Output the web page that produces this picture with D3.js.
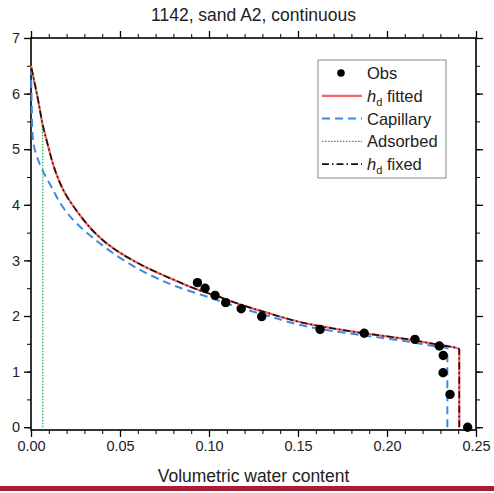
<!DOCTYPE html>
<html>
<head>
<meta charset="utf-8">
<script src="https://cdn.jsdelivr.net/npm/d3@7"></script>
<style>
  body { margin: 0; background: #fff; }
  svg text { font-family: "Liberation Sans", Arial, sans-serif; }
</style>
</head>
<body>
<div id="chart"></div>
<script>
// Observed points (volumetric water content, log10 suction)
const obsTheta = [0.0935, 0.0978, 0.1034, 0.1094, 0.1181, 0.1296, 0.1624, 0.1872, 0.2157, 0.2294, 0.2316, 0.2315, 0.2354, 0.2453];
const obsH = [2.60, 2.50, 2.37, 2.24, 2.13, 1.99, 1.76, 1.69, 1.58, 1.46, 1.29, 0.98, 0.59, 0.0];

// h_d fitted curve
const fittedTheta = [0, 0.0039, 0.0067, 0.0096, 0.0133, 0.0189, 0.0264, 0.0358, 0.0444, 0.0631, 0.0818, 0.0931, 0.1043, 0.1174, 0.1324, 0.1586, 0.1848, 0.2100, 0.2260, 0.2406, 0.2406];
const fittedH = [6.50, 5.90, 5.42, 5.06, 4.64, 4.22, 3.86, 3.50, 3.26, 2.90, 2.63, 2.48, 2.36, 2.21, 2.06, 1.84, 1.70, 1.59, 1.50, 1.40, 0];

// Capillary component
const capTheta = [0, 0.0004, 0.0008, 0.0022, 0.0058, 0.0115, 0.0185, 0.0264, 0.0358, 0.0444, 0.0631, 0.0818, 0.1006, 0.1174, 0.1324, 0.1586, 0.1848, 0.2100, 0.2260, 0.2339, 0.2339];
const capH = [6.40, 5.80, 5.30, 4.98, 4.67, 4.32, 3.93, 3.64, 3.38, 3.17, 2.80, 2.53, 2.33, 2.15, 2.01, 1.79, 1.66, 1.55, 1.46, 1.42, 0];

// Adsorbed component
const adsTheta = [0, 0.0018, 0.0035, 0.0050, 0.0062, 0.0066, 0.0066];
const adsH = [6.50, 6.20, 5.95, 5.70, 5.45, 5.10, 0];

// h_d fixed curve (almost on top of the fitted one)
const fixedTheta = [0, 0.0039, 0.0067, 0.0096, 0.0133, 0.0189, 0.0264, 0.0358, 0.0444, 0.0631, 0.0818, 0.0931, 0.1043, 0.1174, 0.1324, 0.1586, 0.1848, 0.2100, 0.2260, 0.2406, 0.2406];
const fixedH = [6.50, 5.90, 5.42, 5.06, 4.64, 4.22, 3.86, 3.50, 3.26, 2.90, 2.63, 2.48, 2.36, 2.21, 2.06, 1.84, 1.70, 1.59, 1.50, 1.40, 0];

// Tick values
const xTicks = [0, 0.05, 0.10, 0.15, 0.20, 0.25];
const yTicks = [0, 1, 2, 3, 4, 5, 6, 7];

// Set the dimensions and margins of the graph
const width = 494, height = 493;
const margin = { top: 38, right: 18, bottom: 63, left: 31 };
const plotW = width - margin.left - margin.right,
    plotH = height - margin.top - margin.bottom;

const svg = d3
    .select("#chart")
    .append("svg")
    .attr("width", width)
    .attr("height", height);

const g = svg.append("g")
    .attr("transform", `translate(${margin.left},${margin.top})`);

// Scales
const x = d3.scaleLinear().domain([0, 0.25]).range([0, plotW]);
const y = d3.scaleLinear().domain([-0.05, 7]).range([plotH, 0]);

const minorX = d3.range(0, 0.2501, 0.01);
const minorY = d3.range(0, 7.01, 0.5);

// Axes: major + minor ticks on all four sides, pointing outward
function addAxis(axisFn, scale, transform, major, minor, labels) {
    g.append("g")
        .attr("transform", transform)
        .call(axisFn(scale).tickValues(minor).tickSize(4).tickFormat(""))
        .call(a => a.select(".domain").remove());
    const ax = g.append("g")
        .attr("transform", transform)
        .call(axisFn(scale).tickValues(major).tickSize(7).tickPadding(4)
            .tickFormat(labels ? labels : ""));
    ax.select(".domain").remove();
    ax.selectAll("line").attr("stroke-width", 1.3);
    ax.selectAll("text")
        .style("font-size", "14.5px")
        .attr("fill", "#222");
    return ax;
}

addAxis(d3.axisBottom, x, `translate(0,${plotH})`, xTicks, minorX, d3.format(".2f"));
addAxis(d3.axisTop, x, "translate(0,0)", xTicks, minorX, null);
addAxis(d3.axisLeft, y, "translate(0,0)", yTicks, minorY, d3.format("d"));
addAxis(d3.axisRight, y, `translate(${plotW},0)`, yTicks, minorY, null);

// Frame
g.append("rect")
    .attr("x", 0)
    .attr("y", 0)
    .attr("width", plotW)
    .attr("height", plotH)
    .attr("fill", "none")
    .attr("stroke", "#000")
    .attr("stroke-width", 1.6);

// Line generator: monotone in y handles the vertical drop at saturation
const line = d3.line()
    .x(d => x(d[0]))
    .y(d => y(d[1]))
    .curve(d3.curveMonotoneY);

const series = [
    { th: capTheta, h: capH, color: "#3d88e6", width: 2, dash: "8,5" },
    { th: fittedTheta, h: fittedH, color: "#f26666", width: 2.2, dash: null },
    { th: adsTheta, h: adsH, color: "#1fae4a", width: 1.2, dash: "1.5,1.5" },
    { th: fixedTheta, h: fixedH, color: "#111", width: 1.6, dash: "7,3,1.5,3" }
];

series.forEach(s => {
    // sort by y so the monotone curve is valid
    const pts = s.th.map((t, i) => [t, s.h[i]]).sort((a, b) => a[1] - b[1]);
    g.append("path")
        .datum(pts)
        .attr("d", line)
        .attr("fill", "none")
        .attr("stroke", s.color)
        .attr("stroke-width", s.width)
        .attr("stroke-dasharray", s.dash);
});

// Observed points
g.selectAll("circle.obs")
    .data(obsTheta.map((t, i) => [t, obsH[i]]))
    .enter()
    .append("circle")
    .attr("class", "obs")
    .attr("cx", d => x(d[0]))
    .attr("cy", d => y(d[1]))
    .attr("r", 4.7)
    .attr("fill", "#000");

// Title and axis label
svg.append("text")
    .attr("x", margin.left + plotW / 2)
    .attr("y", 21)
    .attr("text-anchor", "middle")
    .style("font-size", "17.5px")
    .attr("fill", "#222")
    .text("1142, sand A2, continuous");

svg.append("text")
    .attr("x", margin.left + plotW / 2)
    .attr("y", 482)
    .attr("text-anchor", "middle")
    .style("font-size", "17.5px")
    .attr("fill", "#222")
    .text("Volumetric water content");

// Legend
const legend = svg.append("g");
legend.append("rect")
    .attr("x", 318)
    .attr("y", 60)
    .attr("width", 128)
    .attr("height", 118)
    .attr("fill", "#fff")
    .attr("stroke", "#888")
    .attr("stroke-width", 1);

const legendItems = [
    { label: "Obs", type: "dot" },
    { label: "fitted", sub: true, color: "#f26666", width: 2.2, dash: null },
    { label: "Capillary", color: "#3d88e6", width: 2, dash: "8,5" },
    { label: "Adsorbed", color: "#1fae4a", width: 1.2, dash: "1.5,1.5" },
    { label: "fixed", sub: true, color: "#111", width: 1.8, dash: "7,3,1.5,3" }
];

legendItems.forEach((it, i) => {
    const cy = 73 + i * 22.8;
    if (it.type === "dot") {
        legend.append("circle")
            .attr("cx", 341).attr("cy", cy).attr("r", 3.8).attr("fill", "#000");
    } else {
        legend.append("line")
            .attr("x1", 322).attr("x2", 362)
            .attr("y1", cy).attr("y2", cy)
            .attr("stroke", it.color)
            .attr("stroke-width", it.width)
            .attr("stroke-dasharray", it.dash);
    }
    const t = legend.append("text")
        .attr("x", 367)
        .attr("y", cy + 6)
        .style("font-size", "16.5px")
        .attr("fill", "#222");
    if (it.sub) {
        t.append("tspan").style("font-style", "italic").text("h");
        t.append("tspan").attr("dy", 4).style("font-size", "11px").text("d");
        t.append("tspan").attr("dy", -4).text(" " + it.label);
    } else {
        t.text(it.label);
    }
});

// Dark red rule along the bottom of the image
svg.append("rect")
    .attr("x", 0)
    .attr("y", 486)
    .attr("width", width)
    .attr("height", 5)
    .attr("fill", "#a81f35");
</script>
</body>
</html>
